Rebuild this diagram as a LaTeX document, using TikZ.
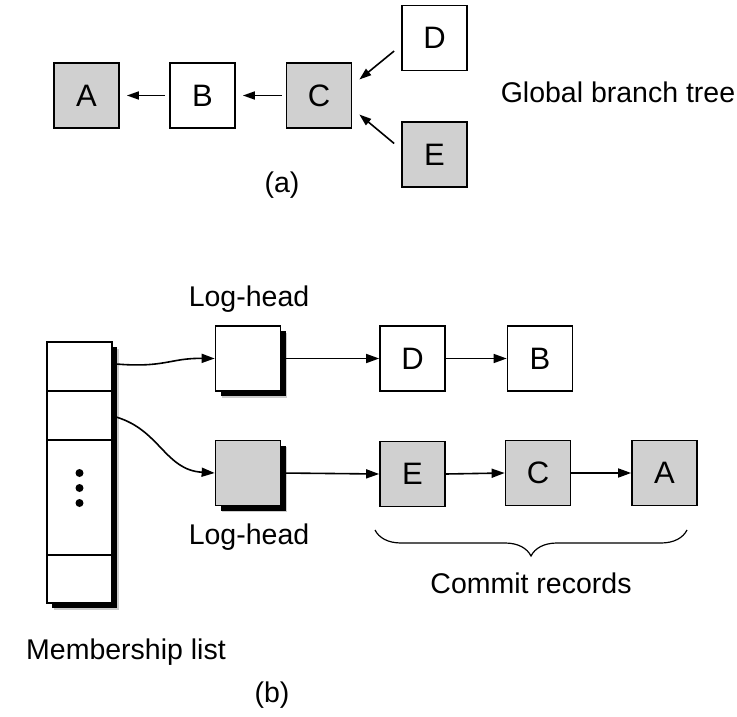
\documentclass[tikz,border=0pt]{standalone}
\usepackage{fontspec}
\setmainfont{Liberation Sans}
\usetikzlibrary{arrows.meta,decorations.pathreplacing}
\definecolor{boxgray}{RGB}{208,208,208}
\tikzset{
  rec/.style={draw=black, line width=1.7pt, minimum width=65pt, minimum height=65pt,
    inner sep=0pt, fill=white, font=\fontsize{31}{36}\selectfont},
  grayrec/.style={rec, fill=boxgray},
  shadowed/.style={preaction={fill=black!20, transform canvas={xshift=6.5pt,yshift=-6.5pt}},
    preaction={fill=black, transform canvas={xshift=5pt,yshift=-5pt}}},
  lbl/.style={font=\fontsize{28.5}{34}\selectfont, inner sep=0pt},
  tiparrow/.style={line width=1.6pt, -{Triangle[length=13pt,width=9pt]}},
  smallarrow/.style={line width=1.6pt, -{Triangle[length=12pt,width=8pt]}},
}
\begin{document}
\begin{tikzpicture}[x=1pt,y=-1pt]
\useasboundingbox (0,0) rectangle (737,717);

% (a) global branch tree
\node[grayrec] (ta) at (86.5,95.5) {A};
\node[rec] (tb) at (202.5,95.5) {B};
\node[grayrec] (tc) at (319,95.5) {C};
\node[rec] (td) at (434.5,38) {D};
\node[grayrec] (te) at (434.5,154.5) {E};
\node[lbl] (gbt) at (618,92) {Global branch tree};
\node[lbl] (capa) at (282,185) {(a)};

\draw[smallarrow] ([xshift=-4pt]tb.west) -- ([xshift=7pt]ta.east);
\draw[smallarrow] ([xshift=-4pt]tc.west) -- ([xshift=7pt]tb.east);
\draw[smallarrow] ([xshift=-7pt,yshift=-13pt]td.west) -- ([xshift=7pt,yshift=16pt]tc.east);
\draw[smallarrow] ([xshift=-7pt,yshift=11pt]te.west) -- ([xshift=7pt,yshift=-19pt]tc.east);

% (b) membership list
\node[rec, shadowed, minimum height=261pt] (ml) at (79.5,472.5) {};
\draw[line width=1.7pt] (47,391) -- (112,391);
\draw[line width=1.7pt] (47,440) -- (112,440);
\draw[line width=1.7pt] (47,555) -- (112,555);
\foreach \yy in {473,488,503} \fill (79.5,\yy) circle (4pt);
\coordinate (m1) at (116,364);
\coordinate (m2) at (116,417);

% log heads
\node[rec, shadowed] (lh1) at (248,358.5) {};
\node[grayrec, shadowed] (lh2) at (248,473) {};
\node[lbl] (lhl1) at (249,299) {Log-head};
\node[lbl] (lhl2) at (249,537) {Log-head};

\draw[tiparrow] (m1) .. controls (165,368) and (170,358) .. (lh1.west);
\draw[tiparrow] (m2) .. controls (160,430) and (165,470) .. (lh2.west);

% commit records
\node[rec] (rd) at (412.5,358.5) {D};
\node[rec] (rb) at (540,358.5) {B};
\node[grayrec] (re) at (412.5,474) {E};
\node[grayrec] (rc) at (538,473) {C};
\node[grayrec] (ra) at (664.5,473) {A};

\draw[tiparrow] (lh1.east) -- (rd.west);
\draw[tiparrow] (rd.east) -- (rb.west);
\draw[tiparrow] (lh2.east) -- (re.west);
\draw[tiparrow] (re.east) -- (rc.west);
\draw[tiparrow] (rc.east) -- (ra.west);

\coordinate (br1) at (375,530);
\coordinate (br2) at (687,530);
\draw[line width=1.2pt, decorate, decoration={brace, mirror, amplitude=26pt, aspect=0.5}] (br1) -- (br2);
\node[lbl] (cr) at (531,583) {Commit records};
\node[lbl] (mlt) at (126,652) {Membership list};
\node[lbl] (capb) at (272,695) {(b)};
\end{tikzpicture}
\end{document}
